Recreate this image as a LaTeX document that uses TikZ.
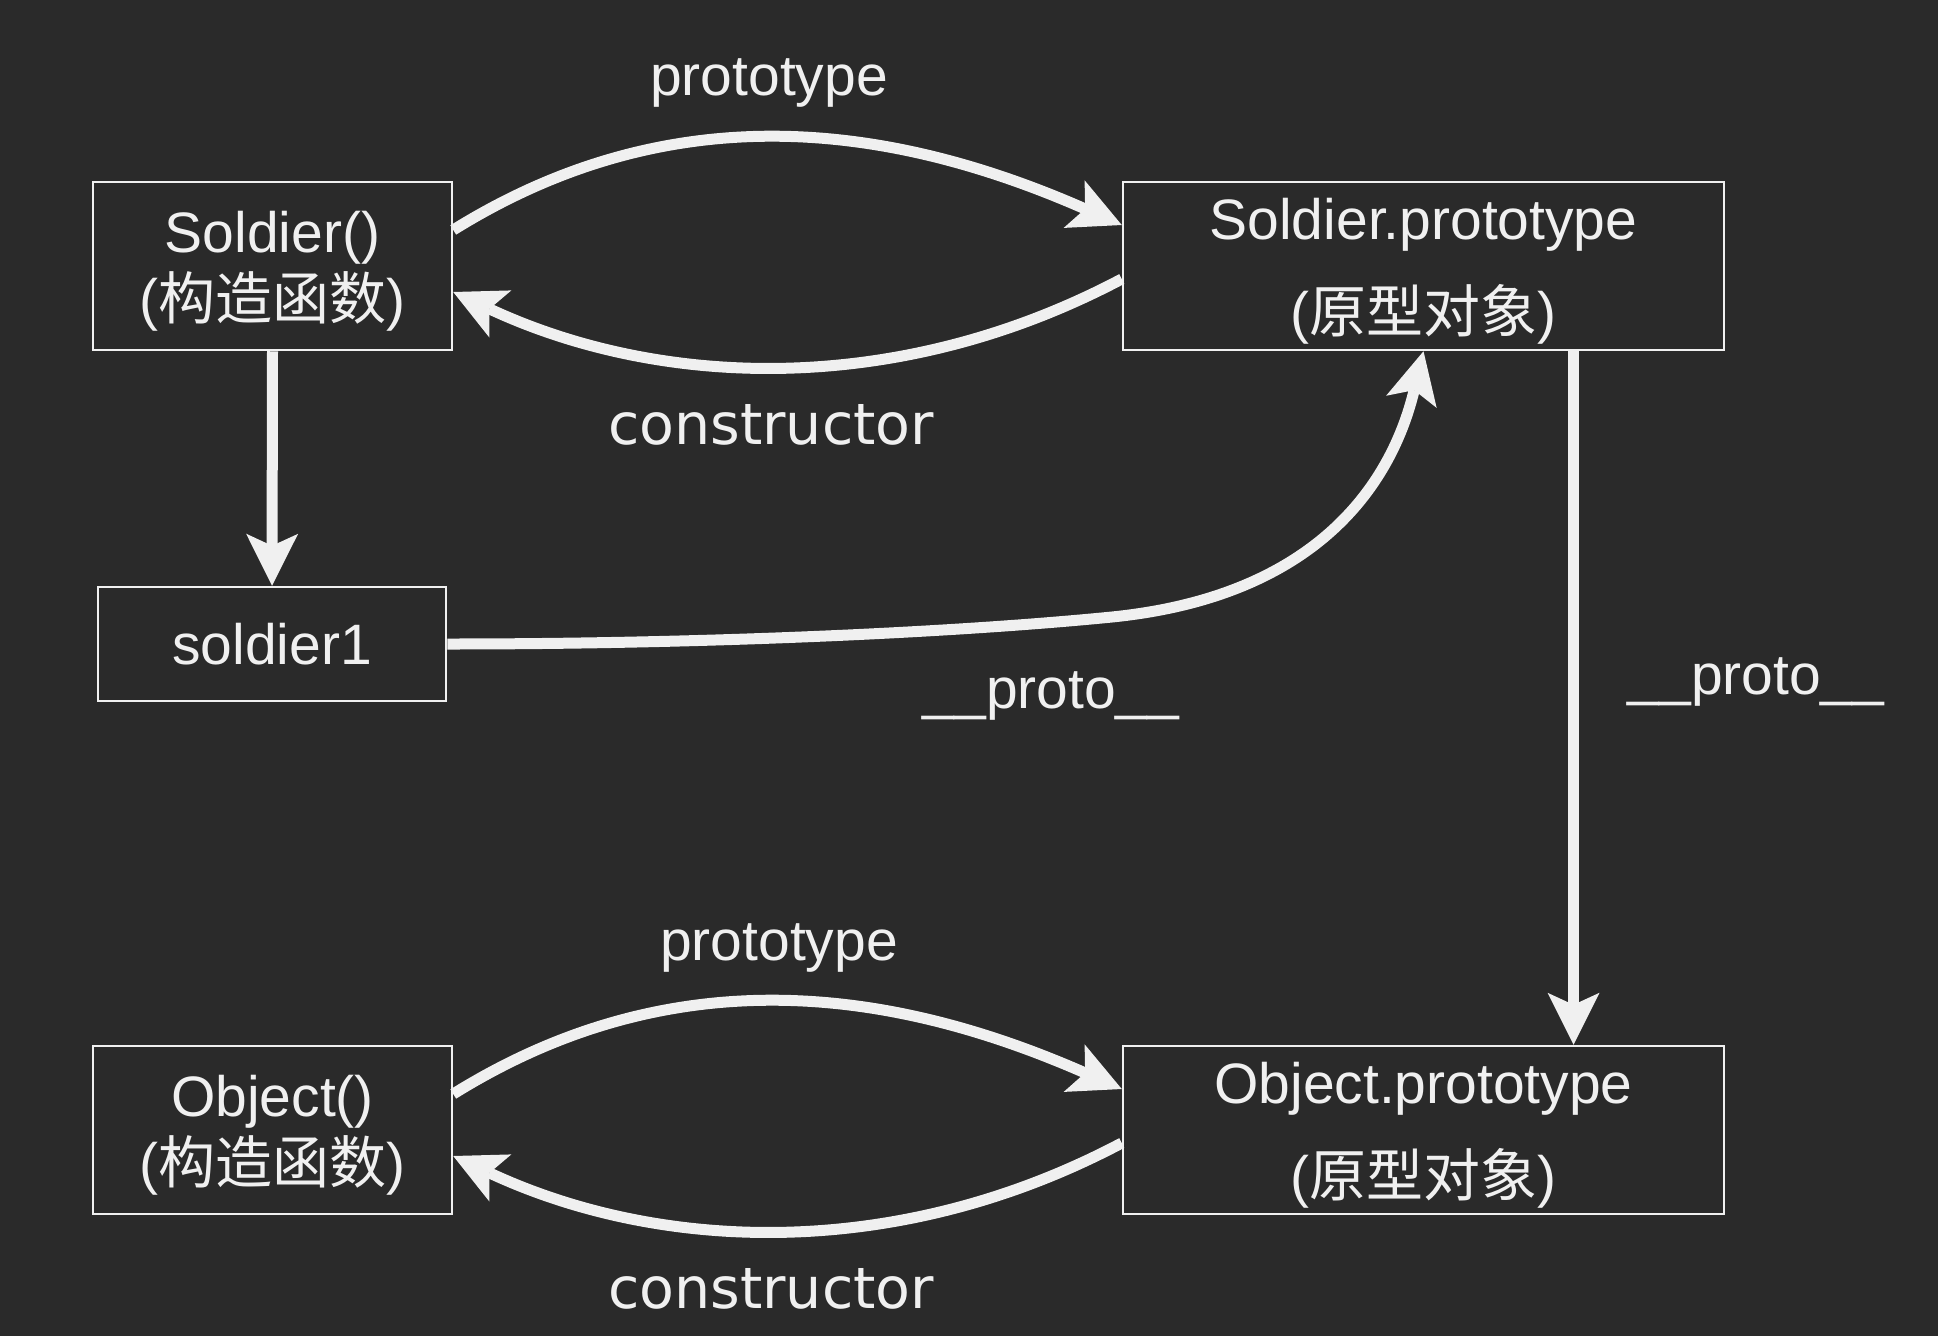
\documentclass[tikz,border=0pt]{standalone}
\usepackage{fontspec}
\setmainfont{Liberation Sans}
\newfontfamily\cjk{Noto Sans CJK SC}
\newfontfamily\dvs{DejaVu Sans}
\usetikzlibrary{arrows.meta,calc}
\definecolor{bgc}{HTML}{2A2A2A}
\definecolor{fgc}{HTML}{F0F0F0}
\newcommand{\zh}[1]{({\cjk #1})}
\newcommand{\lift}{\rule{0pt}{52pt}}

\begin{document}
\begin{tikzpicture}[x = 1pt, y = -1pt,
  >={Stealth[length=52pt, width=52pt, inset=12pt, line width=0pt]},
  every node/.style = {text=fgc, font=\fontsize{57}{67}\selectfont},
  box/.style = {draw=fgc, line width=2.5pt, inner sep=0pt, align=center, minimum height=168pt},
  link/.style = {->, draw=fgc, line width=11pt}]
\fill[bgc] (0,0) rectangle (1938,1336);

\node[box, minimum width=359pt] (SC) at (272.5, 266) {\lift Soldier()\\\zh{构造函数}};
\node[box, minimum width=601pt, font=\fontsize{57}{93}\selectfont] (SP) at (1423.5, 266) {\lift Soldier.prototype\\\zh{原型对象}};
\node[box, minimum width=348pt, minimum height=114pt] (S1) at (272, 644) {soldier1};
\node[box, minimum width=359pt] (OC) at (272.5, 1130) {\lift Object()\\\zh{构造函数}};
\node[box, minimum width=601pt, font=\fontsize{57}{93}\selectfont] (OP) at (1423.5, 1130) {\lift Object.prototype\\\zh{原型对象}};

\node (P1) at (769, 83) {prototype};
\node[font=\dvs\fontsize{57}{67}\selectfont] (C1) at (771, 425) {constructor};
\node (U1) at (1051, 696) {\_\_proto\_\_};
\node (U2) at (1756, 682) {\_\_proto\_\_};
\node (P2) at (779, 948) {prototype};
\node[font=\dvs\fontsize{57}{67}\selectfont] (C2) at (771, 1289) {constructor};

\draw[link] ($(SC.east)+(0,-36)$) .. controls ($(SC.east)+(220,-173)$) and ($(SP.west)+(-230,-142)$) .. ($(SP.west)+(0,-41)$);
\draw[link] ($(SP.west)+(0,13)$) .. controls ($(SP.west)+(-223,131)$) and ($(SC.east)+(208,123)$) .. ($(SC.east)+(0,26)$);
\draw[link] (SC.south) -- (S1.north);
\draw[link] (S1.east) .. controls (700, 644) and (950, 633) .. (1112, 617) .. controls (1330, 595) and (1395, 470) .. (SP.south);
\draw[link] ($(SP.south)+(150,0)$) -- ($(OP.north)+(150,0)$);

\draw[link] ($(OC.east)+(0,-36)$) .. controls ($(OC.east)+(220,-173)$) and ($(OP.west)+(-230,-142)$) .. ($(OP.west)+(0,-41)$);
\draw[link] ($(OP.west)+(0,13)$) .. controls ($(OP.west)+(-223,131)$) and ($(OC.east)+(208,123)$) .. ($(OC.east)+(0,26)$);

\end{tikzpicture}
\end{document}
